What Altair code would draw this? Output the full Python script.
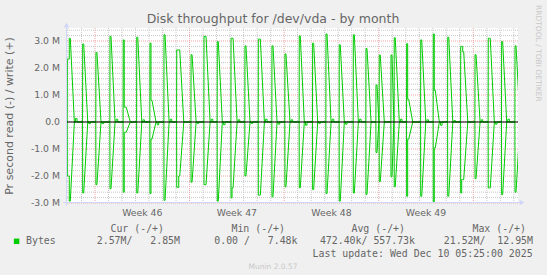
import altair as alt
import pandas as pd

# ---------------- text ----------------
TITLE = "Disk throughput for /dev/vda - by month"
Y_TITLE = "Pr second read (-) / write (+)"
WATERMARK = "RRDTOOL / TOBI OETIKER"
VERSION = "Munin 2.0.57"
LEGEND_HEADERS = ["Cur (-/+)", "Min (-/+)", "Avg (-/+)", "Max (-/+)"]
LEGEND_NAME = "Bytes"
LEGEND_VALUES = ["2.57M/   2.85M", "0.00 /   7.48k", "472.40k/ 557.73k", "21.52M/  12.95M"]
LAST_UPDATE = "Last update: Wed Dec 10 05:25:00 2025"

# ---------------- axes ----------------
# time in days since Sunday 2025-11-09 00:00
X_DOMAIN = [-2.147, 31.31]
WEEK_STARTS = [0, 7, 14, 21, 28]
WEEK_LABEL_POS = [3.5, 10.5, 17.5, 24.5]
WEEK_LABELS = ["Week 46", "Week 47", "Week 48", "Week 49"]
Y_DOMAIN = [-3.0, 3.481]          # millions of bytes per second
Y_LABEL_VALUES = [-3, -2, -1, 0, 1, 2, 3]
Y_LABELS = ["-3.0 M", "-2.0 M", "-1.0 M", "0.0", "1.0 M", "2.0 M", "3.0 M"]

# ---------------- data ----------------
SPIKE_DAY = [-2.05, -0.91, 0.07, 1.11, 2.09, 3.09, 4.07, 5.11, 6.05, 7.11,
             8.07, 9.05, 10.07, 11.10, 12.09, 13.10, 14.06, 15.12, 16.11, 17.10,
             18.08, 19.12, 20.06, 20.80, 21.04, 21.91, 22.15, 23.07, 24.11, 25.04,
             26.11, 27.07, 28.13, 29.11, 30.10, 31.09]
WRITE_LEVELS = [[2.33, 2.33, 3.10], [2.89], [2.57], [3.17], [3.04, 0.55, 0.55],
                [3.14], [2.92, 0.80], [3.23], [2.67, 2.67, 2.67], [2.49],
                [3.17, 3.17], [2.98], [3.10, 3.10], [2.82], [3.07, 3.07],
                [2.82], [2.52], [3.19], [2.92], [3.26],
                [2.86], [3.23], [2.72], [1.37], [2.48],
                [2.48], [3.12], [2.90, 0.84], [3.04], [3.26, 1.17],
                [3.14], [2.80, 2.80, 2.60], [2.49], [3.10, 3.10], [2.98], [2.82]]
READ_LEVELS = [[2.00, 2.00, 2.93], [2.63], [2.32], [2.47], [2.60, 0.38, 0.38],
               [2.63], [2.65, 0.63], [2.90], [2.42, 2.42, 2.00], [2.23],
               [2.32, 2.32], [2.93], [2.81, 2.44], [2.00], [2.71, 2.71],
               [2.77], [2.40], [2.44], [2.50], [2.65],
               [2.93], [2.63], [2.68], [1.13], [2.21],
               [2.03], [2.40], [2.75, 0.64], [2.75], [2.96, 0.96],
               [2.75], [2.63, 2.13, 2.13], [2.10], [2.44, 2.44], [2.69], [2.60]]
# small residual activity just after some bursts
BLIP_WRITE = [0.13, 0.0, 0.0, 0.10, 0.0, 0.08, 0.0, 0.10, 0.0, 0.0,
              0.10, 0.0, 0.08, 0.0, 0.10, 0.0, 0.08, 0.0, 0.0, 0.10,
              0.0, 0.10, 0.0, 0.0, 0.0, 0.0, 0.10, 0.0, 0.08, 0.0,
              0.05, 0.0, 0.08, 0.0, 0.10, 0.0]
BLIP_READ = [0.0, 0.06, 0.06, 0.0, 0.0, 0.0, 0.10, 0.0, 0.0, 0.05,
             0.0, 0.10, 0.0, 0.05, 0.0, 0.08, 0.0, 0.12, 0.05, 0.0,
             0.08, 0.0, 0.0, 0.0, 0.0, 0.0, 0.0, 0.0, 0.0, 0.12,
             0.0, 0.0, 0.0, 0.08, 0.0, 0.0]
STEP = 0.074    # one 2-hour consolidated sample
DECAY = 0.30    # fall back to zero after a backup burst

rows = []


def add(series, t, v):
    rows.append({"series": series, "day": t, "value": v, "order": len(rows)})


for series, levels_all, blips, sign in (("write", WRITE_LEVELS, BLIP_WRITE, 1),
                                         ("read", READ_LEVELS, BLIP_READ, -1)):
    add(series, X_DOMAIN[0], 0.0)
    for i, t0 in enumerate(SPIKE_DAY):
        levels = levels_all[i]
        add(series, t0 - 0.01, 0.0)
        for k, v in enumerate(levels):
            add(series, t0 + k * STEP, sign * v)
            add(series, t0 + (k + 1) * STEP, sign * v)
        t_end = t0 + len(levels) * STEP + DECAY
        nxt = SPIKE_DAY[i + 1] if i + 1 < len(SPIKE_DAY) else 99
        t_end = min(t_end, nxt - 0.03)
        add(series, t_end, 0.0)
        if blips[i] and t_end + 0.4 < nxt:
            add(series, t_end + 0.08, 0.0)
            add(series, t_end + 0.08, sign * blips[i])
            add(series, t_end + 0.2, sign * blips[i])
            add(series, t_end + 0.2, 0.0)
    add(series, X_DOMAIN[1], 0.0)

df = pd.DataFrame(rows)

# ---------------- styling ----------------
W, H = 452, 175
GREEN = "#00cc00"
FONT_COLOR = "#666666"
AXIS_COLOR = "#cfd6f8"
GRID_COLOR = "#c8c8c8"
MGRID_COLOR = "#eba5a5"
SANS = "DejaVu Sans"
MONO = "DejaVu Sans Mono"

xs = alt.Scale(domain=X_DOMAIN, nice=False, zero=False)
ys = alt.Scale(domain=Y_DOMAIN, nice=False, zero=False)

minor_days = [d for d in range(-2, 32) if d not in WEEK_STARTS]
minor_vals = [round(-3.0 + 0.2 * k, 1) for k in range(33)]
minor_vals = [v for v in minor_vals if abs(v - round(v)) > 1e-6]

grid_x_minor = alt.Chart(pd.DataFrame({"day": minor_days})).mark_rule(
    color=GRID_COLOR, strokeDash=[1, 1], strokeWidth=1
).encode(x=alt.X("day:Q", scale=xs, axis=None))
grid_y_minor = alt.Chart(pd.DataFrame({"value": minor_vals})).mark_rule(
    color=GRID_COLOR, strokeDash=[1, 1], strokeWidth=1
).encode(y=alt.Y("value:Q", scale=ys, axis=None))
grid_x_major = alt.Chart(pd.DataFrame({"day": WEEK_STARTS})).mark_rule(
    color=MGRID_COLOR, strokeDash=[1, 1], strokeWidth=1
).encode(x=alt.X("day:Q", scale=xs, axis=None))
grid_y_major = alt.Chart(pd.DataFrame({"value": Y_LABEL_VALUES})).mark_rule(
    color=MGRID_COLOR, strokeDash=[1, 1], strokeWidth=1
).encode(y=alt.Y("value:Q", scale=ys, axis=None))

lines = alt.Chart(df).mark_line(color=GREEN, strokeWidth=1, clip=True).encode(
    x=alt.X("day:Q", scale=xs, axis=None),
    y=alt.Y("value:Q", scale=ys, axis=None),
    detail="series:N",
    order="order:Q",
)

zero_line = alt.Chart(pd.DataFrame({"value": [0]})).mark_rule(
    color="#000000", strokeWidth=1
).encode(y=alt.Y("value:Q", scale=ys, axis=None))

# tick labels, placed through the scales
x_labels = alt.Chart(pd.DataFrame({"day": WEEK_LABEL_POS, "lab": WEEK_LABELS})).mark_text(
    font=SANS, fontSize=9.3, color=FONT_COLOR, align="center", baseline="middle"
).encode(x=alt.X("day:Q", scale=xs, axis=None), y=alt.value(H + 10), text="lab:N")
y_labels = alt.Chart(pd.DataFrame({"value": Y_LABEL_VALUES, "lab": Y_LABELS})).mark_text(
    font=SANS, fontSize=9.3, color=FONT_COLOR, align="right", baseline="middle"
).encode(y=alt.Y("value:Q", scale=ys, axis=None), x=alt.value(-6), text="lab:N")

dummy = pd.DataFrame({"k": [0]})
left_axis = alt.Chart(dummy).mark_rule(color=AXIS_COLOR, strokeWidth=1).encode(
    x=alt.value(0.5), y=alt.value(H + 3), y2=alt.value(-3))
bottom_axis = alt.Chart(dummy).mark_rule(color=AXIS_COLOR, strokeWidth=1).encode(
    x=alt.value(-3), x2=alt.value(W + 3), y=alt.value(H - 0.5))
arrow_up = alt.Chart(dummy).mark_point(shape="triangle-up", filled=True, size=28,
                                       color=AXIS_COLOR, opacity=1).encode(
    x=alt.value(0.5), y=alt.value(-3))
arrow_right = alt.Chart(dummy).mark_point(shape="triangle-right", filled=True, size=28,
                                          color=AXIS_COLOR, opacity=1).encode(
    x=alt.value(W + 4), y=alt.value(H - 0.5))


def label(text, x, y, size, color=FONT_COLOR, font=SANS, align="center", angle=0):
    return alt.Chart(pd.DataFrame({"t": [text.replace(" ", "\u00a0")]})).mark_text(
        align=align, baseline="middle", fontSize=size, font=font, color=color, angle=angle
    ).encode(x=alt.value(x), y=alt.value(y), text="t:N")


texts = [
    label(TITLE, 207, -9, 12.5),
    label(Y_TITLE, -56, 88, 11, angle=270),
    label(WATERMARK, 471.7, 25.3, 7.5, color="#c8c8c8", angle=90),
    label(VERSION, 207, 239.2, 7.5, color="#c8c8c8"),
    label(LAST_UPDATE, 466.6, 226.3, 9.9, font=MONO, align="right"),
    label(LEGEND_NAME, -40, 213.4, 9.9, font=MONO, align="left"),
]
for h, xr in zip(LEGEND_HEADERS, [98, 219, 339, 460]):
    texts.append(label(h, xr, 201.2, 9.9, font=MONO, align="right"))
for v, xr in zip(LEGEND_VALUES, [114, 231.5, 349, 467]):
    texts.append(label(v, xr, 213.4, 9.9, font=MONO, align="right"))

legend_box = alt.Chart(dummy).mark_point(shape="square", filled=True, size=30,
                                         color=GREEN, opacity=1).encode(
    x=alt.value(-49.4), y=alt.value(213.3))

chart = alt.layer(
    grid_x_minor, grid_y_minor, grid_x_major, grid_y_major,
    lines, zero_line, left_axis, bottom_axis, arrow_up, arrow_right,
    x_labels, y_labels, legend_box, *texts,
).properties(
    width=W, height=H,
    padding={"left": 66, "top": 28, "right": 29, "bottom": 72},
    autosize=alt.AutoSizeParams(type="none"),
    background="#f0f0f0",
).configure_view(fill="white", strokeWidth=0)

chart.save("out.html", embed_options={"renderer": "svg", "actions": False})
